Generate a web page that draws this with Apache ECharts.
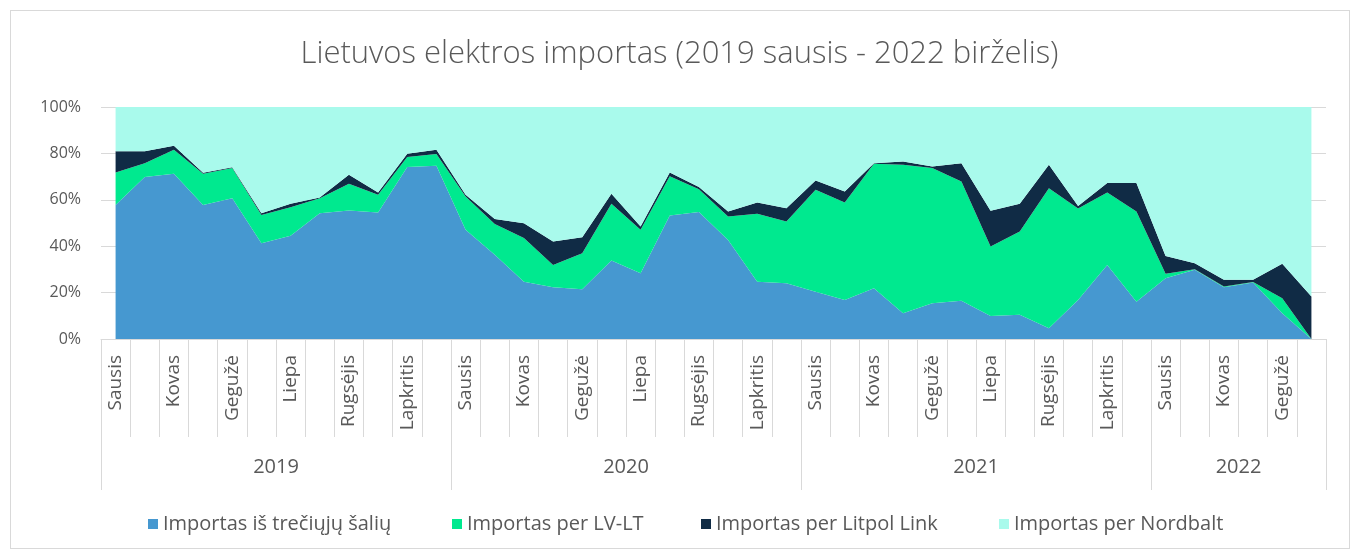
<!DOCTYPE html>
<html>
<head>
<meta charset="utf-8">
<script src="https://cdn.jsdelivr.net/npm/echarts@6/dist/echarts.min.js"></script>
<style>
html,body{margin:0;padding:0;background:#fff;}
#wrap{position:relative;width:1359px;height:557px;}
#chart{position:absolute;left:0;top:0;width:1359px;height:557px;}
#frame{position:absolute;left:10px;top:10px;width:1338px;height:537px;border:1px solid #d9d9d9;pointer-events:none;}
</style>
</head>
<body>
<div id="wrap"><div id="frame"></div><div id="chart"></div></div>
<script>
const monthNames = ['Sausis','Vasaris','Kovas','Balandis','Gegužė','Birželis','Liepa','Rugpjūtis','Rugsėjis','Spalis','Lapkritis','Gruodis'];
const months = [].concat(monthNames, monthNames, monthNames, monthNames.slice(0, 6));
const years = ['2019', '2020', '2021', '2022'];
const yearBounds = [0, 12, 24, 36, 42];
const yearCenters = [6, 18, 30, 39];

const seriesNames = ['Importas iš trečiųjų šalių', 'Importas per LV-LT', 'Importas per Litpol Link', 'Importas per Nordbalt'];

const thirdCountries = [57.8,69.8,71.2,57.8,60.7,41.3,44.5,54.2,55.4,54.5,74.1,74.7,
  47.1,36.3,24.7,22.3,21.4,33.8,28.3,53.2,54.7,42.7,24.7,24.0,
  20.4,16.8,21.9,11.1,15.4,16.5,9.9,10.4,4.6,16.8,31.9,16.1,
  26.2,29.8,22.3,24.3,11.1,0];
const lvlt = [14.0,6.0,10.4,13.4,13.0,12.2,12.3,6.5,11.5,7.7,4.3,5.0,
  14.3,13.3,18.8,9.6,15.6,24.5,18.8,16.9,9.9,10.1,29.3,26.6,
  43.9,42.0,53.6,64.0,58.3,51.4,30.0,35.9,60.4,39.5,31.3,38.9,
  1.9,0.3,0.3,0.3,6.5,0];
const litpol = [9.1,5.1,1.7,0.5,0.3,0.7,1.5,0.3,3.9,1.0,1.5,1.9,
  0.8,2.1,6.4,10.1,6.9,4.3,1.4,1.7,0.9,2.2,4.8,5.8,
  4.0,4.8,0.3,1.4,0.7,7.9,15.4,12.0,10.1,1.0,4.0,12.2,
  7.7,2.6,2.9,0.9,14.8,18.3];
const nordbalt = [19.1,19.1,16.7,28.3,26.0,45.8,41.7,39.0,29.2,36.8,20.1,18.4,
  37.8,48.3,50.1,58.0,56.1,37.4,51.5,28.2,34.5,45.0,41.2,43.6,
  31.7,36.4,24.2,23.5,25.6,24.2,44.7,41.7,24.9,42.7,32.8,32.8,
  64.2,67.3,74.5,74.5,67.6,81.7];

const colors = ['#4698D0', '#00E98F', '#102B45', '#A9FAEC'];
const dataSets = [thirdCountries, lvlt, litpol, nordbalt];
const legendLefts = [143, 447, 696, 994];
const textColor = '#595959';
const gridColor = '#d9d9d9';
const font = 'Open Sans';

const chart = echarts.init(document.getElementById('chart'), null, {renderer: 'canvas'});
chart.setOption({
  animation: false,
  color: colors,
  title: {
    text: 'Lietuvos elektros importas (2019 sausis - 2022 birželis)',
    left: 'center',
    top: 34,
    textStyle: {fontFamily: font, fontSize: 31, fontWeight: 300, color: textColor}
  },
  legend: seriesNames.map(function (name, i) {
    return {
      top: 509,
      left: legendLefts[i],
      itemWidth: 10,
      itemHeight: 10,
      itemGap: 5,
      icon: 'rect',
      textStyle: {fontFamily: font, fontSize: 20, color: textColor},
      data: [name]
    };
  }),
  grid: {left: 101, right: 33, top: 107, bottom: 218},
  xAxis: [{
    type: 'category',
    data: months,
    boundaryGap: true,
    axisLine: {show: true, lineStyle: {color: gridColor}},
    axisTick: {show: true, interval: 0, length: 98, lineStyle: {color: gridColor}},
    axisLabel: {interval: 1, rotate: 90, margin: 16, color: textColor, fontFamily: font, fontSize: 19}
  }, {
    type: 'value',
    position: 'bottom',
    min: 0,
    max: 42,
    axisLine: {show: false},
    splitLine: {show: false},
    axisTick: {show: true, customValues: yearBounds, length: 151, lineStyle: {color: gridColor}},
    axisLabel: {
      customValues: yearCenters,
      margin: 118,
      color: textColor,
      fontFamily: font,
      fontSize: 20,
      formatter: function (v) { return years[yearCenters.indexOf(v)]; }
    }
  }],
  yAxis: {
    type: 'value',
    min: 0,
    max: 100,
    interval: 20,
    axisLine: {show: false},
    axisTick: {show: false},
    splitLine: {show: true, lineStyle: {color: gridColor}},
    axisLabel: {formatter: '{value}%', margin: 20, color: textColor, fontFamily: font, fontSize: 16}
  },
  series: seriesNames.map(function (name, i) {
    return {
      name: name,
      type: 'line',
      stack: 'total',
      xAxisIndex: 0,
      symbol: 'none',
      lineStyle: {width: 0},
      areaStyle: {color: colors[i], opacity: 1},
      data: dataSets[i]
    };
  })
});
</script>
</body>
</html>
